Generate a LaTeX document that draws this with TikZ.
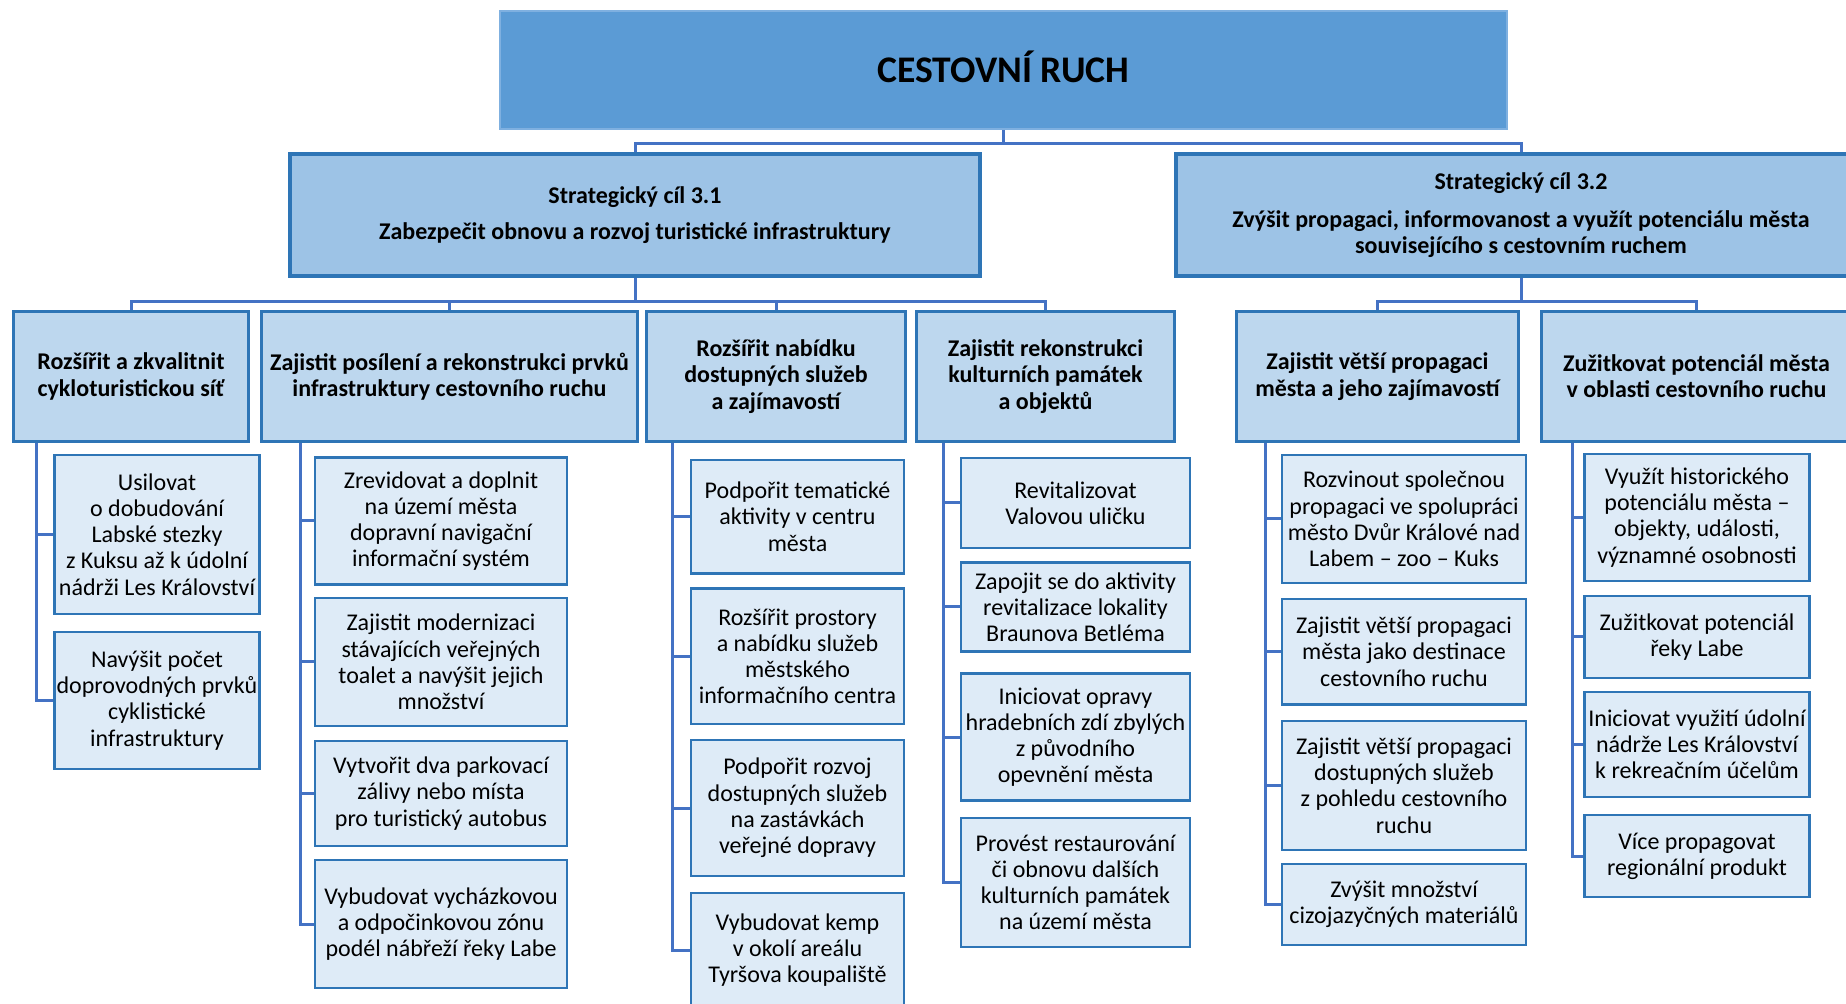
\documentclass[tikz,border=0pt]{standalone}
\usepackage{fontspec}
\setmainfont{Carlito}
\usetikzlibrary{positioning}
\definecolor{rootfill}{HTML}{5B9BD5}
\definecolor{rootedge}{HTML}{7FB0E0}
\definecolor{goalfill}{HTML}{9DC3E6}
\definecolor{aimfill}{HTML}{BDD7EE}
\definecolor{leaffill}{HTML}{DEEBF7}
\definecolor{boxedge}{HTML}{2E75B6}
\definecolor{linkblue}{HTML}{4472C4}

\begin{document}
\begin{tikzpicture}[x=0.5pt,y=-0.5pt,
  every node/.style={align=center,inner sep=1pt,font=\fontsize{12}{13.1}\selectfont},
  root/.style={fill=rootfill,draw=rootedge,line width=0.8pt,minimum width=503.7pt,minimum height=59.2pt,text height=12.1pt,text depth=0pt,font=\fontsize{18.8}{22}\selectfont\bfseries},
  goal/.style={fill=goalfill,draw=boxedge,line width=2pt,minimum width=345pt,minimum height=61.25pt,font=\fontsize{12}{13.1}\selectfont\bfseries},
  aim/.style={fill=aimfill,draw=boxedge,line width=1.5pt,minimum height=65pt,font=\fontsize{12}{13.1}\selectfont\bfseries},
  leaf/.style={fill=leaffill,draw=boxedge,line width=1.2pt},
  colA/.style={leaf,minimum width=102.5pt},
  colB/.style={leaf,minimum width=125.8pt},
  colC/.style={leaf,minimum width=106.3pt},
  colD/.style={leaf,minimum width=114.3pt},
  colE/.style={leaf,minimum width=122pt},
  colF/.style={leaf,minimum width=112.5pt},
  link/.style={draw=linkblue,line width=1.5pt}]
\useasboundingbox (0,0) rectangle (1846,1004);

%top
\node[root] (root) at (1003.5,70) {CESTOVNÍ RUCH};

%strategic goals
\node[goal] (g1) at (635,215) {Strategický cíl 3.1\\[5pt]Zabezpečit obnovu a rozvoj turistické infrastruktury};
\node[goal] (g2) at (1521,215) {Strategický cíl 3.2\\[6pt]Zvýšit propagaci, informovanost a využít potenciálu města\\souvisejícího s cestovním ruchem};

%specific aims
\node[aim,minimum width=117.75pt] (hA) at (131,376.5) {Rozšířit a zkvalitnit\\cykloturistickou síť};
\node[aim,minimum width=188pt] (hB) at (449.5,376.5) {Zajistit posílení a rekonstrukci prvků\\infrastruktury cestovního ruchu};
\node[aim,minimum width=129.5pt] (hC) at (776,376.5) {Rozšířit nabídku\\dostupných služeb\\a zajímavostí};
\node[aim,minimum width=129pt] (hD) at (1045.5,376.5) {Zajistit rekonstrukci\\kulturních památek\\a objektů};
\node[aim,minimum width=141pt] (hE) at (1377.5,376.5) {Zajistit větší propagaci\\města a jeho zajímavostí};
\node[aim,minimum width=155pt] (hF) at (1696.5,376.5) {Zužitkovat potenciál města\\v oblasti cestovního ruchu};

%measures
\node[colA,minimum height=79.3pt] (a1) at (157,534.5) {Usilovat\\o dobudování\\Labské stezky\\z Kuksu až k údolní\\nádrži Les Království};
\node[colA,minimum height=68.3pt] (a2) at (157,700.5) {Navýšit počet\\doprovodných prvků\\cyklistické\\infrastruktury};

\node[colB,minimum height=63.6pt] (b1) at (441,521) {Zrevidovat a doplnit\\na území města\\dopravní navigační\\informační systém};
\node[colB,minimum height=64.1pt] (b2) at (441,662) {Zajistit modernizaci\\stávajících veřejných\\toalet a navýšit jejich\\množství};
\node[colB,minimum height=52.3pt] (b3) at (441,793.5) {Vytvořit dva parkovací\\zálivy nebo místa\\pro turistický autobus};
\node[colB,minimum height=63.8pt] (b4) at (441,924) {Vybudovat vycházkovou\\a odpočinkovou zónu\\podél nábřeží řeky Labe};

\node[colC,minimum height=56.8pt] (c1) at (797.5,516.6) {Podpořit tematické\\aktivity v centru\\města};
\node[colC,minimum height=67.8pt] (c2) at (797.5,656.4) {Rozšířit prostory\\a nabídku služeb\\městského\\informačního centra};
\node[colC,minimum height=67.8pt] (c3) at (797.5,808) {Podpořit rozvoj\\dostupných služeb\\na zastávkách\\veřejné dopravy};
\node[colC,minimum height=56.8pt] (c4) at (797.5,950) {Vybudovat kemp\\v okolí areálu\\Tyršova koupaliště};

\node[colD,minimum height=45pt] (d1) at (1075.5,503) {Revitalizovat\\Valovou uličku};
\node[colD,minimum height=44.6pt] (d2) at (1075.5,607) {Zapojit se do aktivity\\revitalizace lokality\\Braunova Betléma};
\node[colD,minimum height=63.6pt] (d3) at (1075.5,737) {Iniciovat opravy\\hradebních zdí zbylých\\z původního\\opevnění města};
\node[colD,minimum height=64.3pt] (d4) at (1075.5,882.5) {Provést restaurování\\či obnovu dalších\\kulturních památek\\na území města};

\node[colE,minimum height=64.1pt] (e1) at (1404,519) {Rozvinout společnou\\propagaci ve spolupráci\\město Dvůr Králové nad\\Labem – zoo – Kuks};
\node[colE,minimum height=52.8pt] (e2) at (1404,651.6) {Zajistit větší propagaci\\města jako destinace\\cestovního ruchu};
\node[colE,minimum height=64.3pt] (e3) at (1404,785.5) {Zajistit větší propagaci\\dostupných služeb\\z pohledu cestovního\\ruchu};
\node[colE,minimum height=40.3pt] (e4) at (1404,904.5) {Zvýšit množství\\cizojazyčných materiálů};

\node[colF,minimum height=63.3pt] (f1) at (1697,517.5) {Využít historického\\potenciálu města –\\objekty, události,\\významné osobnosti};
\node[colF,minimum height=41pt] (f2) at (1697,637) {Zužitkovat potenciál\\řeky Labe};
\node[colF,minimum height=52.3pt] (f3) at (1697,744.5) {Iniciovat využití údolní\\nádrže Les Království\\k rekreačním účelům};
\node[colF,minimum height=41pt] (f4) at (1697,856) {Více propagovat\\regionální produkt};

%connectors
\draw[link] (root.south) -- ++(0,14) coordinate (j0);
\draw[link] (g1.north) |- (j0) -| (g2.north);
\draw[link] (g1.south) -- ++(0,23) coordinate (j1);
\draw[link] (hA.north) |- (j1) -| (hD.north);
\draw[link] (hB.north) -- (hB.north |- j1);
\draw[link] (hC.north) -- (hC.north |- j1);
\draw[link] (g2.south) -- ++(0,23) coordinate (j2);
\draw[link] (hE.north) |- (j2) -| (hF.north);

\coordinate (vA) at (36,443);
\coordinate (vB) at (300,443);
\coordinate (vC) at (672.5,443);
\coordinate (vD) at (943.4,443);
\coordinate (vE) at (1265,443);
\coordinate (vF) at (1572.7,443);
\draw[link] (vA) |- (a1.west);
\draw[link] (vA) |- (a2.west);
\draw[link] (vB) |- (b1.west);
\draw[link] (vB) |- (b2.west);
\draw[link] (vB) |- (b3.west);
\draw[link] (vB) |- (b4.west);
\draw[link] (vC) |- (c1.west);
\draw[link] (vC) |- (c2.west);
\draw[link] (vC) |- (c3.west);
\draw[link] (vC) |- (c4.west);
\draw[link] (vD) |- (d1.west);
\draw[link] (vD) |- (d2.west);
\draw[link] (vD) |- (d3.west);
\draw[link] (vD) |- (d4.west);
\draw[link] (vE) |- (e1.west);
\draw[link] (vE) |- (e2.west);
\draw[link] (vE) |- (e3.west);
\draw[link] (vE) |- (e4.west);
\draw[link] (vF) |- (f1.west);
\draw[link] (vF) |- (f2.west);
\draw[link] (vF) |- (f3.west);
\draw[link] (vF) |- (f4.west);
\end{tikzpicture}
\end{document}
